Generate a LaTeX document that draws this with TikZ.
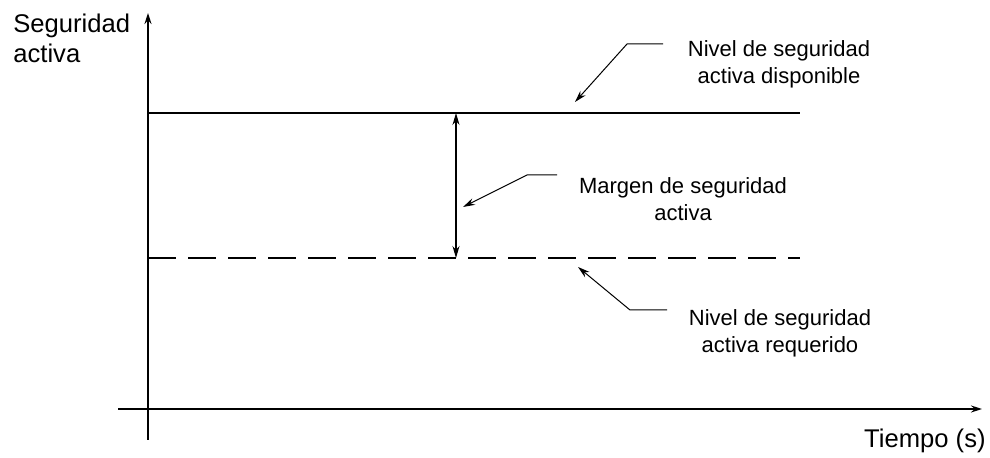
\documentclass[tikz,border=0pt]{standalone}
\usepackage{fontspec}
\setmainfont{Liberation Sans}
\usetikzlibrary{arrows.meta, positioning}

\begin{document}
\begin{tikzpicture}[
    x=0.5pt, y=-0.5pt,
    txt/.style={align=center, inner sep=0pt, font=\fontsize{11}{13.5}\selectfont},
    axlab/.style={inner sep=0pt, font=\fontsize{12.8}{15}\selectfont},
    axis/.style={-{Stealth[length=5.5pt, width=3.5pt]}, line width=0.8pt},
    level/.style={line width=1.4pt},
    leader/.style={-{Stealth[length=6pt, width=3.5pt]}, line width=0.5pt}
  ]
    \useasboundingbox (0,0) rectangle (990,458);
    \node[axlab, align=left, anchor=north west] (ylab) at (13,14) {Seguridad\\activa};
    \node[axlab, anchor=north east] (xlab) at (986,429) {Tiempo (s)};
    \node[txt] (disp) at (779,64) {Nivel de seguridad\\activa disponible};
    \node[txt] (marg) at (683,199) {Margen de seguridad\\activa};
    \node[txt] (req) at (780,333) {Nivel de seguridad\\activa requerido};
    \coordinate (ybot) at (148,440);
    \coordinate (ytop) at (148,13);
    \coordinate (xleft) at (118,409);
    \coordinate (xright) at (982,409);
    \coordinate (dispL) at (148,113);
    \coordinate (dispR) at (800,113);
    \coordinate (reqL) at (148,258);
    \coordinate (reqR) at (800,258);
    \coordinate (mtop) at (456,113);
    \coordinate (mbot) at (456,258);
    \coordinate (dispA) at (663,44);
    \coordinate (dispB) at (627,44);
    \coordinate (dispC) at (575,102);
    \coordinate (margA) at (557,175);
    \coordinate (margB) at (527,175);
    \coordinate (margC) at (463,207);
    \coordinate (reqA) at (667,310);
    \coordinate (reqB) at (630,310);
    \coordinate (reqC) at (578,267);
    \draw[axis] (ybot) -- (ytop);
    \draw[axis] (xleft) -- (xright);
    \draw[level] (dispL) -- (dispR);
    \draw[level, dash pattern=on 14pt off 6pt] (reqL) -- (reqR);
    \draw[{Stealth[length=6pt, width=3.5pt]}-{Stealth[length=6pt, width=3.5pt]}, line width=0.6pt] (mtop) -- (mbot);
    \draw[leader] (dispA) -- (dispB) -- (dispC);
    \draw[leader] (margA) -- (margB) -- (margC);
    \draw[leader] (reqA) -- (reqB) -- (reqC);
  \end{tikzpicture}
\end{document}
